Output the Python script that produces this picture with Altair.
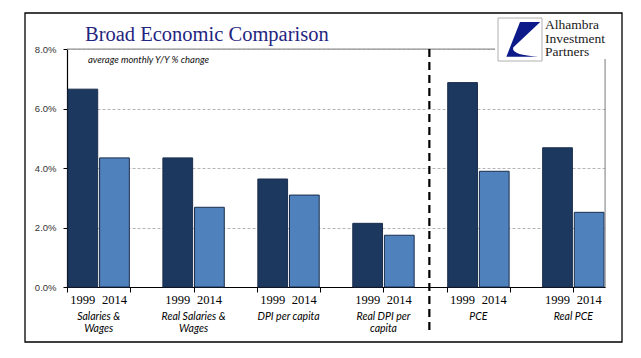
import altair as alt
import pandas as pd

# ---- data ----
categories = ["Salaries &\nWages", "Real Salaries &\nWages", "DPI per capita",
              "Real DPI per\ncapita", "PCE", "Real PCE"]
years = ["1999", "2014"]
values_1999 = [6.65, 4.34, 3.63, 2.14, 6.87, 4.68]
values_2014 = [4.34, 2.68, 3.09, 1.74, 3.89, 2.51]
y_ticks = [0, 2, 4, 6, 8]
bar_colors = ["#1c385f", "#4f81bd"]

# ---- build tables (slot layout: 1999, 2014, gap) ----
rows = []
for g, cat in enumerate(categories):
    for j, (yr, vals) in enumerate(zip(years, [values_1999, values_2014])):
        slot = g * 3 + j
        rows.append({"category": cat, "year": yr, "value": vals[g],
                     "x0": slot + 0.03, "x1": slot + 0.97, "xc": slot + 0.5})
bars_df = pd.DataFrame(rows)
cat_df = pd.DataFrame({"category": categories,
                       "xc": [g * 3 + 1 for g in range(len(categories))]})
n_slots = len(categories) * 3 - 1
one = pd.DataFrame({"a": [0]})

W, H = 538, 238
xscale = alt.Scale(domain=[0, n_slots], nice=False, zero=False)
yscale = alt.Scale(domain=[0, 8], nice=False)

border = alt.Chart(one).mark_rect(filled=False, stroke="black", strokeWidth=1.3).encode(
    x=alt.value(-42), x2=alt.value(555), y=alt.value(-36), y2=alt.value(293))

bars = alt.Chart(bars_df).mark_bar(stroke="#1a2d4c", strokeWidth=1).encode(
    x=alt.X("x0:Q", scale=xscale,
            axis=alt.Axis(values=list(range(n_slots + 1)), labels=False, tickSize=5,
                          tickColor="black", domainColor="black", domainWidth=1.2,
                          grid=False, title=None)),
    x2="x1:Q",
    y=alt.Y("value:Q", scale=yscale,
            axis=alt.Axis(values=y_ticks, labelExpr="format(datum.value, '.1f') + '%'",
                          tickSize=4, tickColor="black", domainColor="black", domainWidth=1.2,
                          labelPadding=7, labelFont="Liberation Sans", labelFontSize=9.5,
                          labelColor="#333333", grid=True, gridColor="#b5b5b5",
                          gridDash=[3, 2], gridWidth=1, title=None)),
    y2=alt.datum(0),
    color=alt.Color("year:N", scale=alt.Scale(domain=years, range=bar_colors), legend=None),
)

top_line = alt.Chart(one).mark_rule(color="#8a8a8a", strokeWidth=1).encode(
    x=alt.value(0), x2=alt.value(W), y=alt.value(0))
right_line = alt.Chart(one).mark_rule(color="#8a8a8a", strokeWidth=1).encode(
    x=alt.value(W), y=alt.value(0), y2=alt.value(H))

divider = alt.Chart(one).mark_rule(color="black", strokeWidth=2.2, strokeDash=[8, 5]).encode(
    x=alt.datum(11.45), y=alt.value(0), y2=alt.value(286))

year_text = alt.Chart(bars_df).mark_text(font="Liberation Serif", fontSize=12.5,
                                         baseline="middle", color="black").encode(
    x="xc:Q", y=alt.value(251), text="year:N")

cat_text = alt.Chart(cat_df).mark_text(font="Lato", fontStyle="italic", fontSize=10.5,
                                       lineBreak="\n", lineHeight=12, baseline="top",
                                       color="black").encode(
    x="xc:Q", y=alt.value(262.5), text="category:N")

title = alt.Chart(one).mark_text(text="Broad Economic Comparison", font="Liberation Serif",
                                 fontSize=20.5, color="#1f2580", align="left",
                                 baseline="middle").encode(x=alt.value(18), y=alt.value(-14))
subtitle = alt.Chart(one).mark_text(text="average monthly Y/Y % change", font="Lato",
                                    fontStyle="italic", fontSize=9.5, color="#111111",
                                    align="left", baseline="middle").encode(
    x=alt.value(21), y=alt.value(11))

# logo
logo_cover = alt.Chart(one).mark_rect(fill="white").encode(
    x=alt.value(428), x2=alt.value(552), y=alt.value(-33), y2=alt.value(10))
logo_box = alt.Chart(one).mark_rect(fill="white", stroke="#b0b0b0", strokeWidth=1).encode(
    x=alt.value(431), x2=alt.value(475), y=alt.value(-31), y2=alt.value(12))
logo_shape = alt.Chart(one).mark_point(
    shape="M0,-0.8 L0.92,-0.8 L-0.3,0.35 Q-0.45,0.7 0.84,0.78 L-0.62,0.78 Z",
    filled=True, fill="#0c1a8a", opacity=1, strokeWidth=0, size=1936).encode(
    x=alt.value(453), y=alt.value(-9.5))
logo_lines = ["Alhambra", "Investment", "Partners"]
logo_texts = [
    alt.Chart(one).mark_text(text=t, font="Liberation Serif", fontSize=13.5, color="#1a1a1a",
                             align="left", baseline="middle").encode(
        x=alt.value(478), y=alt.value(-24 + 13.5 * i))
    for i, t in enumerate(logo_lines)
]

chart = alt.layer(
    bars, top_line, right_line, divider, year_text, cat_text, border, title, subtitle,
    logo_cover, logo_box, logo_shape, *logo_texts
).properties(
    width=W, height=H,
    autosize=alt.AutoSizeParams(type="none"),
    padding={"left": 59, "top": 41, "right": 20, "bottom": 60},
).configure_view(stroke=None).configure(background="white")

chart.save("out.html", embed_options={"renderer": "svg", "actions": False})
